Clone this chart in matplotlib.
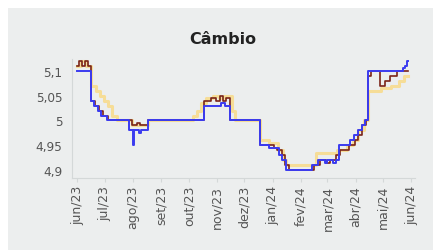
import numpy as np
import pandas as pd
import matplotlib
matplotlib.use("Agg")
import matplotlib.pyplot as plt
from matplotlib.patches import Rectangle

# ===== dados (pontos de mudança, linha em degraus) =====
blue_dates = ["2023-06-01", "2023-06-16", "2023-06-19", "2023-06-23", "2023-06-27",
              "2023-07-03", "2023-07-27", "2023-08-01", "2023-08-02", "2023-08-07",
              "2023-08-10", "2023-08-17", "2023-10-18", "2023-11-05", "2023-11-10",
              "2023-11-15", "2023-12-18", "2023-12-28", "2024-01-08", "2024-01-11",
              "2024-01-16", "2024-02-13", "2024-02-20", "2024-02-27", "2024-03-01",
              "2024-03-07", "2024-03-10", "2024-03-14", "2024-03-26", "2024-03-30",
              "2024-04-04", "2024-04-08", "2024-04-11", "2024-04-15", "2024-05-20",
              "2024-05-23", "2024-05-25", "2024-05-27", "2024-05-28"]
blue_vals = [5.10, 5.04, 5.03, 5.02, 5.01,
             5.00, 4.98, 4.95, 4.98, 4.975,
             4.98, 5.00, 5.03, 5.035, 5.03,
             5.00, 4.95, 4.945, 4.93, 4.92,
             4.90, 4.91, 4.92, 4.915, 4.92,
             4.915, 4.92, 4.95, 4.96, 4.97,
             4.98, 4.99, 5.00, 5.10, 5.10,
             5.105, 5.11, 5.12, 5.12]

red_dates = ["2023-06-01", "2023-06-03", "2023-06-06", "2023-06-09", "2023-06-12",
             "2023-06-16", "2023-06-20", "2023-06-25", "2023-06-29", "2023-07-04",
             "2023-07-31", "2023-08-05", "2023-08-09", "2023-08-17", "2023-10-18",
             "2023-10-25", "2023-10-31", "2023-11-04", "2023-11-08", "2023-11-11",
             "2023-11-15", "2023-12-18", "2024-01-02", "2024-01-06", "2024-01-11",
             "2024-01-15", "2024-01-19", "2024-02-15", "2024-02-22", "2024-02-28",
             "2024-03-04", "2024-03-10", "2024-03-15", "2024-03-25", "2024-03-31",
             "2024-04-04", "2024-04-08", "2024-04-12", "2024-04-15", "2024-04-18",
             "2024-04-28", "2024-05-03", "2024-05-09", "2024-05-16", "2024-05-28"]
red_vals = [5.11, 5.12, 5.11, 5.12, 5.11,
            5.04, 5.03, 5.02, 5.01, 5.00,
            4.99, 4.995, 4.99, 5.00, 5.04,
            5.045, 5.04, 5.05, 5.04, 5.045,
            5.00, 4.95, 4.945, 4.94, 4.93,
            4.91, 4.90, 4.91, 4.92, 4.915,
            4.92, 4.93, 4.94, 4.95, 4.96,
            4.97, 4.99, 5.00, 5.09, 5.10,
            5.07, 5.08, 5.09, 5.10, 5.10]

yel_dates = ["2023-06-01", "2023-06-05", "2023-06-10", "2023-06-16", "2023-06-21",
             "2023-06-26", "2023-06-30", "2023-07-04", "2023-07-09", "2023-07-14",
             "2023-07-31", "2023-08-17", "2023-10-06", "2023-10-10", "2023-10-14",
             "2023-10-20", "2023-10-28", "2023-11-03", "2023-11-09", "2023-11-17",
             "2023-11-21", "2023-12-18", "2023-12-28", "2024-01-07", "2024-01-12",
             "2024-01-16", "2024-02-14", "2024-02-18", "2024-03-12", "2024-03-22",
             "2024-03-29", "2024-04-04", "2024-04-10", "2024-04-15", "2024-04-29",
             "2024-05-10", "2024-05-18", "2024-05-24", "2024-05-28"]
yel_vals = [5.11, 5.12, 5.11, 5.07, 5.06,
            5.05, 5.04, 5.03, 5.01, 5.00,
            4.99, 5.00, 5.01, 5.02, 5.035,
            5.045, 5.05, 5.045, 5.05, 5.02,
            5.00, 4.96, 4.955, 4.94, 4.92,
            4.91, 4.91, 4.935, 4.94, 4.95,
            4.96, 4.98, 5.00, 5.06, 5.065,
            5.07, 5.08, 5.09, 5.09]

month_ticks = pd.date_range("2023-06-01", "2024-06-01", freq="MS")
month_names = ["jan", "fev", "mar", "abr", "mai", "jun",
               "jul", "ago", "set", "out", "nov", "dez"]
month_labels = [f"{month_names[d.month - 1]}/{d.year % 100:02d}" for d in month_ticks]

y_ticks = [4.9, 4.95, 5.0, 5.05, 5.1]
y_labels = ["4,9", "4,95", "5", "5,05", "5,1"]

# ===== figura =====
W, H = 433, 251
fig = plt.figure(figsize=(W / 100, H / 100), dpi=100, facecolor="white")
fig.patches.append(Rectangle((8 / W, 0), 1 - 8 / W, 1 - 9 / H, transform=fig.transFigure,
                             facecolor="#eceeee", edgecolor="none", zorder=-5))

ax = fig.add_axes([72 / W, 1 - 179 / H, (415 - 72) / W, (179 - 60) / H])
ax.set_facecolor("none")

ax.plot(pd.to_datetime(yel_dates), yel_vals, drawstyle="steps-post",
        color="#ffd050", alpha=0.55, lw=2.2, zorder=2)
ax.plot(pd.to_datetime(red_dates), red_vals, drawstyle="steps-post",
        color="#7a2418", lw=1.2, zorder=3)
ax.plot(pd.to_datetime(blue_dates), blue_vals, drawstyle="steps-post",
        color="#3b3bf0", lw=1.4, zorder=4)

ax.set_xlim(pd.Timestamp("2023-05-26"), pd.Timestamp("2024-06-05"))
ax.set_ylim(4.884, 5.124)

ax.set_xticks(month_ticks)
ax.set_xticklabels(month_labels, rotation=90, fontsize=9, color="#555555")
ax.set_yticks(y_ticks)
ax.set_yticklabels(y_labels, fontsize=8.7, color="#555555")
ax.tick_params(axis="y", length=0, pad=7)
ax.tick_params(axis="x", length=3, color="#d4d8d8", pad=2)

for s in ["top", "right"]:
    ax.spines[s].set_visible(False)
for s in ["left", "bottom"]:
    ax.spines[s].set_color("#d4d8d8")
    ax.spines[s].set_linewidth(0.8)

fig.text(223 / W, 1 - 40 / H, "Câmbio", ha="center", va="center",
         fontsize=11.5, fontweight="bold", color="#222222")

fig.savefig("out.png", dpi=100, facecolor="white")
